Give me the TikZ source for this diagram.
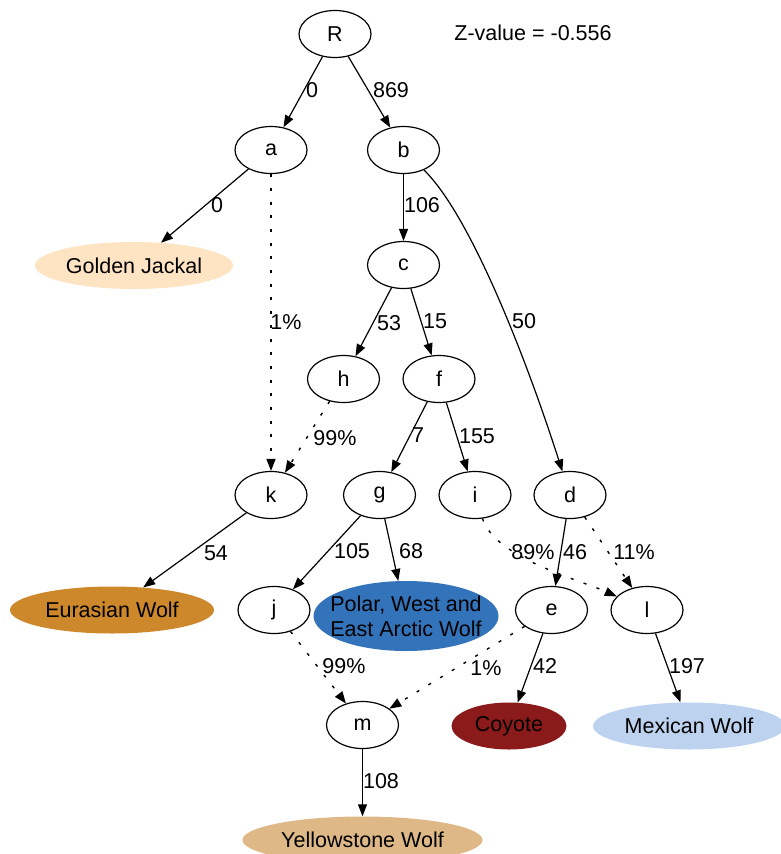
\documentclass[tikz,border=0pt]{standalone}
\usepackage{fontspec}
\setmainfont{Liberation Sans}
\usetikzlibrary{shapes.geometric,arrows.meta}
\definecolor{gjc}{HTML}{FFE4C4}
\definecolor{eurc}{HTML}{CD882C}
\definecolor{polc}{HTML}{3373BA}
\definecolor{coyc}{HTML}{8B1A1A}
\definecolor{mexc}{HTML}{BCD2EE}
\definecolor{yelc}{HTML}{DEB887}
\begin{document}
\begin{tikzpicture}[x=1pt,y=-1pt,
  every node/.style={font=\fontsize{21.5}{25}\selectfont},
  inn/.style={ellipse,draw,line width=1.2pt,minimum width=72pt,minimum height=47pt,inner sep=0pt},
  leaf/.style={ellipse,minimum height=47pt,inner sep=0pt},
  edge/.style={line width=1.2pt,-{Triangle[length=12pt,width=9pt]}},
  dot/.style={edge,line width=1.4pt,dash pattern=on 3pt off 10.7pt},
  lab/.style={inner sep=0pt}]
\useasboundingbox (0,0) rectangle (781,854);
\clip (0,0) rectangle (781,854);
\node[inn] (R) at (335,34) {R};
\node[inn] (a) at (271,150) {a};
\node[inn] (b) at (403.5,150) {b};
\node[leaf,fill=gjc,minimum width=198pt] (gj) at (134,265.5) {Golden Jackal};
\node[inn] (c) at (403.5,265) {c};
\node[inn] (h) at (343.5,379) {h};
\node[inn] (f) at (439,379) {f};
\node[inn] (k) at (271,495) {k};
\node[inn] (g) at (379.5,495) {g};
\node[inn] (i) at (475,495) {i};
\node[inn] (d) at (570,495) {d};
\node[leaf,fill=eurc,minimum width=204pt] (eur) at (112,610) {Eurasian Wolf};
\node[inn] (j) at (274,610) {j};
\node[leaf,fill=polc,minimum width=185pt,minimum height=70pt,inner xsep=-16pt,align=center] (pol) at (406,616) {Polar, West and\\East Arctic Wolf};
\node[inn] (e) at (551.5,610) {e};
\node[inn] (l) at (647,610) {l};
\node[inn] (m) at (362.5,725) {m};
\node[leaf,fill=coyc,minimum width=115pt] (coy) at (509,726) {Coyote};
\node[leaf,fill=mexc,minimum width=192pt] (mex) at (689,726) {Mexican Wolf};
\node[leaf,fill=yelc,minimum width=240pt] (yel) at (362.5,840) {Yellowstone Wolf};
\node[lab] (zv) at (533,33) {Z-value = -0.556};
% edges
\draw[edge] (R) -- (a);
\draw[edge] (R) -- (b);
\draw[edge] (a) -- (gj);
\draw[dot] (a) -- (k);
\draw[edge] (b) -- (c);
\draw[edge] (b) .. controls (470,215) and (525,355) .. (d);
\draw[edge] (c) -- (h);
\draw[edge] (c) -- (f);
\draw[dot] (h) -- (k);
\draw[edge] (f) -- (g);
\draw[edge] (f) -- (i);
\draw[edge] (k) -- (eur);
\draw[edge] (g) -- (j);
\draw[edge] (g) -- (pol);
\draw[dot] (i) .. controls (495,558) and (580,580) .. (l);
\draw[edge] (d) -- (e);
\draw[dot] (d) -- (l);
\draw[dot] (j) -- (m);
\draw[dot] (e) -- (m);
\draw[edge] (e) -- (coy);
\draw[edge] (l) -- (mex);
\draw[edge] (m) -- (yel);
% labels
\node[lab] (t1) at (312,90) {0};
\node[lab] (t2) at (391,90) {869};
\node[lab] (t3) at (217,205) {0};
\node[lab] (t4) at (286,322) {1\%};
\node[lab] (t5) at (422,205) {106};
\node[lab] (t6) at (524,321) {50};
\node[lab] (t7) at (389,323) {53};
\node[lab] (t8) at (435,321) {15};
\node[lab] (t9) at (335,438) {99\%};
\node[lab] (t10) at (418,435) {7};
\node[lab] (t11) at (477,436) {155};
\node[lab] (t12) at (216,553) {54};
\node[lab] (t13) at (352,551) {105};
\node[lab] (t14) at (411,551) {68};
\node[lab] (t15) at (533,552) {89\%};
\node[lab] (t16) at (575,552) {46};
\node[lab] (t17) at (634,552) {11\%};
\node[lab] (t18) at (344,666) {99\%};
\node[lab] (t19) at (486,668) {1\%};
\node[lab] (t20) at (545,666) {42};
\node[lab] (t21) at (687,666) {197};
\node[lab] (t22) at (381,781) {108};
\end{tikzpicture}
\end{document}
